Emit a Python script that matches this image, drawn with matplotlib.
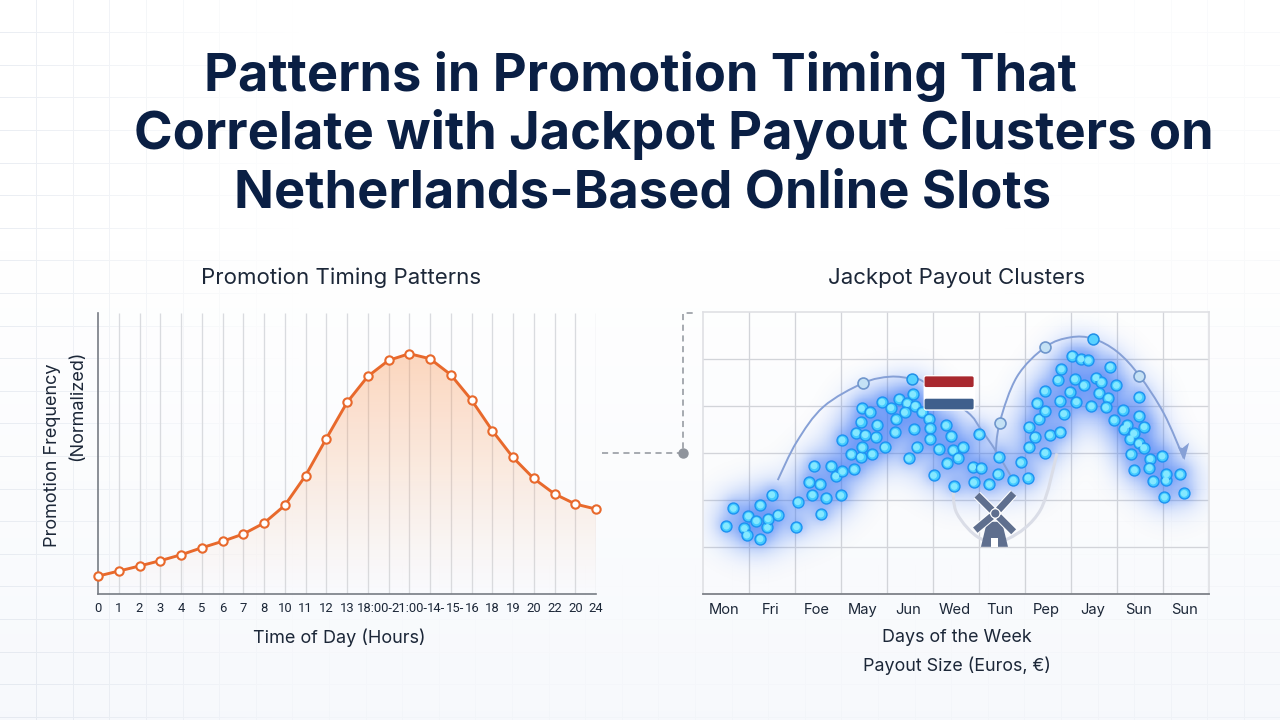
import matplotlib
matplotlib.use("Agg")
import matplotlib.pyplot as plt
import numpy as np
from matplotlib.patches import FancyBboxPatch, PathPatch, Polygon, Circle, Rectangle
from matplotlib.path import Path

plt.rcParams['font.family'] = ['Inter', 'DejaVu Sans']

# left chart
hour_index = list(range(25))
promo_freq = [.062, .080, .098, .117, .138, .163, .186, .212, .251, .314, .420, .552, .681,
              .774, .831, .855, .837, .780, .690, .581, .485, .410, .355, .319, .301]
hour_labels = ['0', '1', '2', '3', '4', '5', '6', '7', '8', '10', '11', '12', '13',
               '18:00-', '21:00-', '14-', '15-', '16', '18', '19', '20', '22', '20', '24']
hour_label_pos = [0, 1, 2, 3, 4, 5, 6, 7, 8, 9, 10, 11, 12,
                  13.35, 15, 16.3, 17.2, 18.05, 19, 20, 21, 22, 23, 24]

# right chart, x and y in arbitrary units
day_labels = ['Mon', 'Fri', 'Foe', 'May', 'Jun', 'Wed', 'Tun', 'Pep', 'Jay', 'Sun', 'Sun']
payout_x = [71, 92, 137, 125, 132, 161, 172, 173, 194, 196, 207, 225, 281, 285, 320, 329, 334, 352,
            354, 371, 385, 399, 419, 414, 454, 418, 445, 473, 478, 508, 545, 460, 487, 518, 473, 476,
            501, 523, 537, 564, 579, 577, 589, 613, 605, 630, 637, 657, 678, 681, 634, 681, 641, 617,
            729, 745, 707, 750, 780, 765, 733, 692, 754, 809, 812, 829, 834, 859, 884, 887, 931, 953,
            975, 978, 995, 978, 1026, 1040, 1072, 1008, 1027, 1002, 1025, 1082, 1070, 1064, 1075, 1107,
            1134, 1156, 1221, 1115, 1142, 1179, 1195, 1240, 1100, 1120, 1165, 1188, 1216, 1208, 1307,
            1259, 1308, 1233, 1272, 1262, 1323, 1282, 1292, 1307, 1322, 1283, 1341, 1377, 1339, 1294,
            1350, 1388, 1390, 1431, 1443, 1384]
payout_y = [202, 255, 232, 195, 175, 218, 164, 265, 198, 224, 296, 236, 200, 275, 333, 296, 383, 327,
            238, 287, 382, 352, 366, 294, 372, 460, 417, 410, 438, 418, 439, 482, 476, 469, 515, 555,
            544, 506, 574, 557, 522, 483, 584, 570, 543, 597, 563, 543, 524, 495, 493, 463, 439, 405,
            504, 472, 433, 429, 438, 407, 390, 354, 321, 379, 333, 477, 376, 327, 358, 409, 340, 393,
            347, 439, 470, 500, 422, 475, 484, 524, 548, 570, 607, 539, 578, 641, 673, 713,
            703, 699, 680, 643, 624, 647, 634, 624, 605, 575, 562, 601, 587, 558, 589,
            550, 533, 520, 505, 493, 500, 464, 480, 450, 437, 418, 404, 412, 377, 370,
            337, 339, 358, 357, 300, 289]
arc1_x = [225, 282, 362, 481, 562, 627, 662, 792, 832, 877, 922]
arc1_y = [340, 455, 560, 631, 650, 644, 635, 545, 495, 430, 355]
arc2_x = [877, 890, 942, 1027, 1102, 1170, 1242, 1309, 1382, 1442]
arc2_y = [410, 512, 650, 739, 768, 764, 725, 653, 540, 405]
arc3_x = [750, 762, 832, 917, 1012, 1062]
arc3_y = [320, 240, 165, 165, 250, 420]
node_x = [481, 890, 1027, 1309]
node_y = [631, 512, 739, 653]
top_x = [627, 1170]
top_y = [644, 764]

INK = '#0a1f44'
TEXT = '#1c2738'


def px_axes(fig, l, t, r, b, **kw):
    return fig.add_axes([l / 1280, 1 - b / 720, (r - l) / 1280, (b - t) / 720], **kw)


def smooth(xs, ys):
    # catmull-rom through the read points, as bezier segments
    p = np.column_stack([xs, ys]).astype(float)
    q = np.vstack([p[0], p, p[-1]])
    verts = [p[0]]
    codes = [Path.MOVETO]
    for i in range(1, len(q) - 2):
        verts += [q[i] + (q[i + 1] - q[i - 1]) / 6, q[i + 1] - (q[i + 2] - q[i]) / 6, q[i + 1]]
        codes += [Path.CURVE4] * 3
    return Path(verts, codes)


fig = plt.figure(figsize=(12.8, 7.2), dpi=100, facecolor='white')

# background: pale gradient and faint square grid, mostly on the left and low right
bg = fig.add_axes([0, 0, 1, 1], zorder=-5)
bg.set_xlim(0, 1280)
bg.set_ylim(720, 0)
bg.axis('off')
yy, xx = np.mgrid[0:720, 0:1280]
shade = np.clip((yy - 250) / 470, 0, 1)[..., None]
top_c = np.array([1.0, 1.0, 1.0])
bot_c = np.array([0.968, 0.976, 0.99])
bg.imshow(top_c * (1 - shade) + bot_c * shade, extent=(0, 1280, 720, 0), aspect='auto')
mask = (np.clip((300 - xx) / 300, 0, 1) * 0.9 + np.clip((xx - 1000) / 280, 0, 1) * 0.3
        + np.clip((yy - 560) / 160, 0, 1) * 0.2)
lines = np.zeros((720, 1280))
lines[:, (np.arange(1, 35) * 36.6).astype(int)] = 1
lines[(np.arange(1, 23) * 32.6).astype(int) % 720, :] = 1
rgba = np.zeros((720, 1280, 4))
rgba[..., :3] = (0.88, 0.90, 0.93)
rgba[..., 3] = np.clip(lines * mask, 0, 1) * 0.75
bg.imshow(rgba, extent=(0, 1280, 720, 0), aspect='auto')
bg.set_xlim(0, 1280)
bg.set_ylim(720, 0)

# dashed connector between the panels
bg.plot([602, 683, 683, 695], [453, 453, 313, 313], color='#8f949c', lw=1.1, ls=(0, (4, 3)))
bg.plot([683], [453], 'o', color='#8f949c', ms=6.5)

# title, the three lines sit at different offsets
fig.text(640 / 1280, 1 - 76 / 720, 'Patterns in Promotion Timing That', ha='center', va='center',
         fontsize=37.7, fontweight='bold', color=INK)
fig.text(673.5 / 1280, 1 - 135 / 720, 'Correlate with Jackpot Payout Clusters on', ha='center', va='center',
         fontsize=37.7, fontweight='bold', color=INK)
fig.text(642.5 / 1280, 1 - 194 / 720, 'Netherlands-Based Online Slots', ha='center', va='center',
         fontsize=37.7, fontweight='bold', color=INK)

fig.text(341 / 1280, 1 - 278 / 720, 'Promotion Timing Patterns', ha='center', va='center', fontsize=16, color=TEXT)
fig.text(957 / 1280, 1 - 278 / 720, 'Jackpot Payout Clusters', ha='center', va='center', fontsize=16, color=TEXT)

# left chart
ax = px_axes(fig, 98, 313, 596, 593.5)
ax.patch.set_alpha(0)
ax.set_xlim(0, 24)
ax.set_ylim(0, 1)
ax.vlines(hour_index[1:], 0, 1, color='#d9dbdf', lw=0.95, zorder=1)
grad = np.zeros((256, 2, 4))
grad[..., :3] = (0.98, 0.55, 0.27)
grad[..., 3] = (np.linspace(0.42, 0, 256)[:, None]) ** 1.15
img = ax.imshow(grad, extent=(0, 24, 0, 0.9), origin='upper', aspect='auto', zorder=2)
poly = Polygon(list(zip(hour_index, promo_freq)) + [(24, 0), (0, 0)], closed=True, transform=ax.transData, fc='none')
ax.add_patch(poly)
img.set_clip_path(poly)
ax.set_xlim(0, 24)
ax.set_ylim(0, 1)
ax.plot(hour_index, promo_freq, color='#e8692c', lw=2.1, marker='o', ms=6, mfc='white', mew=1.5,
        clip_on=False, zorder=4)
for s in ['top', 'right']:
    ax.spines[s].set_visible(False)
for s in ['left', 'bottom']:
    ax.spines[s].set_color('#777c84')
    ax.spines[s].set_linewidth(1.2)
ax.set_yticks([])
ax.set_xticks(hour_label_pos)
ax.set_xticklabels(hour_labels, fontsize=9.4, color=TEXT, family=['Roboto', 'DejaVu Sans'])
ax.tick_params(axis='x', length=0, pad=6)
fig.text(339 / 1280, 1 - 638 / 720, 'Time of Day (Hours)', ha='center', va='center', fontsize=13, color=TEXT)
fig.text(53 / 1280, 1 - 455 / 720, 'Promotion Frequency', rotation=90, ha='center', va='center', fontsize=13, color=TEXT)
fig.text(78 / 1280, 1 - 406 / 720, '(Normalized)', rotation=90, ha='center', va='center', fontsize=13, color=TEXT)

# right chart
ax2 = px_axes(fig, 702.7, 312, 1208.5, 593.5)
ax2.patch.set_alpha(0)
ax2.set_xlim(0, 1516)
ax2.set_ylim(0, 844)
ax2.set_xticks(np.arange(1, 11) * 1516 / 11, minor=True)
ax2.set_yticks(np.arange(1, 6) * 844 / 6, minor=True)
ax2.grid(which='minor', color='#d2d4d9', lw=0.95, zorder=0)
ax2.tick_params(which='minor', length=0)
ax2.set_axisbelow(True)
ax2.set_xticks((np.arange(11) + 0.5) * 1516 / 11 - 4)
ax2.set_xticklabels(day_labels, fontsize=10.6, color=TEXT)
ax2.set_yticks([])
ax2.tick_params(axis='x', length=0, pad=6.5)
for s in ['top', 'right', 'left']:
    ax2.spines[s].set_color('#dfe0e4')
    ax2.spines[s].set_linewidth(1.2)
ax2.spines['bottom'].set_color('#7d8188')
ax2.spines['bottom'].set_linewidth(1.3)

# glow around the points, built from the same points
gy, gx = np.mgrid[0:844:4, 0:1516:4]
dens_wide = np.zeros(gx.shape)
dens_tight = np.zeros(gx.shape)
for px_, py_ in zip(payout_x, payout_y):
    d2 = (gx - px_) ** 2 + (gy - py_) ** 2
    dens_wide += np.exp(-d2 / (2 * 50.0 ** 2))
    dens_tight += np.exp(-d2 / (2 * 20.0 ** 2))
glow = np.zeros(gx.shape + (4,))
glow[..., :3] = (0.20, 0.44, 0.96)
glow[..., 3] = np.clip(1 - np.exp(-0.11 * dens_wide - 0.25 * dens_tight), 0, 0.68)
ax2.imshow(glow, extent=(0, 1516, 0, 844), origin='lower', aspect='auto', zorder=1.5)
ax2.set_xlim(0, 1516)
ax2.set_ylim(0, 844)

ax2.add_patch(PathPatch(smooth(arc3_x, arc3_y), fc='none', ec='#dadde7', lw=2.2, zorder=1.8))
ax2.add_patch(PathPatch(smooth(arc1_x, arc1_y), fc='none', ec='#86a0d6', lw=1.4, zorder=2))
ax2.add_patch(PathPatch(smooth(arc2_x, arc2_y), fc='none', ec='#86a0d6', lw=1.4, zorder=2))
ax2.add_patch(Polygon([(1444, 400), (1424, 440), (1438, 436), (1458, 452)], closed=True, fc='#86a0d6', ec='none', zorder=2))

ax2.scatter(payout_x, payout_y, s=62, c='#45ccff', edgecolors='#1c92f2', linewidths=1.0, zorder=3)
ax2.scatter(payout_x, payout_y, s=24, c='#84e8ff', edgecolors='none', zorder=3.1)
ax2.scatter(node_x, node_y, s=62, c='#c4e1f5', edgecolors='#6f96cc', linewidths=1.2, zorder=3.2)
ax2.scatter(top_x, top_y, s=62, c='#58d2ff', edgecolors='#1f8fe8', linewidths=1.1, zorder=3.2)

# flag
ax2.add_patch(FancyBboxPatch((662, 548), 155, 107, boxstyle='round,pad=0,rounding_size=8', fc='white', ec='none', zorder=4))
ax2.add_patch(FancyBboxPatch((665, 619), 147, 32, boxstyle='round,pad=0,rounding_size=5', fc='#a8282e', ec='none', zorder=4.1))
ax2.add_patch(FancyBboxPatch((665, 552), 147, 32, boxstyle='round,pad=0,rounding_size=5', fc='#3f5f8c', ec='none', zorder=4.1))

# windmill
MILL = '#5f6f8e'
ax2.add_patch(Polygon([(834, 140), (915, 140), (897, 215), (852, 215)], closed=True, fc=MILL, ec='none', zorder=4))
ax2.add_patch(Rectangle((865, 140), 20, 26, fc='white', ec='none', zorder=4.1))
cx, cy = 877, 240
blades = [(822, 295), (932, 300), (817, 190), (932, 185)]
for tx, ty in blades:
    ax2.plot([cx, tx], [cy, ty], color='white', lw=6.5, solid_capstyle='butt', zorder=4.2)
for tx, ty in blades:
    ax2.plot([cx + (tx - cx) * 0.18, tx], [cy + (ty - cy) * 0.18, ty], color=MILL, lw=5, solid_capstyle='butt', zorder=4.3)
ax2.add_patch(Circle((cx, cy), 14, fc=MILL, ec='white', lw=0.8, zorder=4.4))

fig.text(957 / 1280, 1 - 638 / 720, 'Days of the Week', ha='center', va='center', fontsize=12.9, color=TEXT)
fig.text(957 / 1280, 1 - 666 / 720, 'Payout Size (Euros, €)', ha='center', va='center', fontsize=12.9, color=TEXT)

fig.savefig('out.png', dpi=100)
